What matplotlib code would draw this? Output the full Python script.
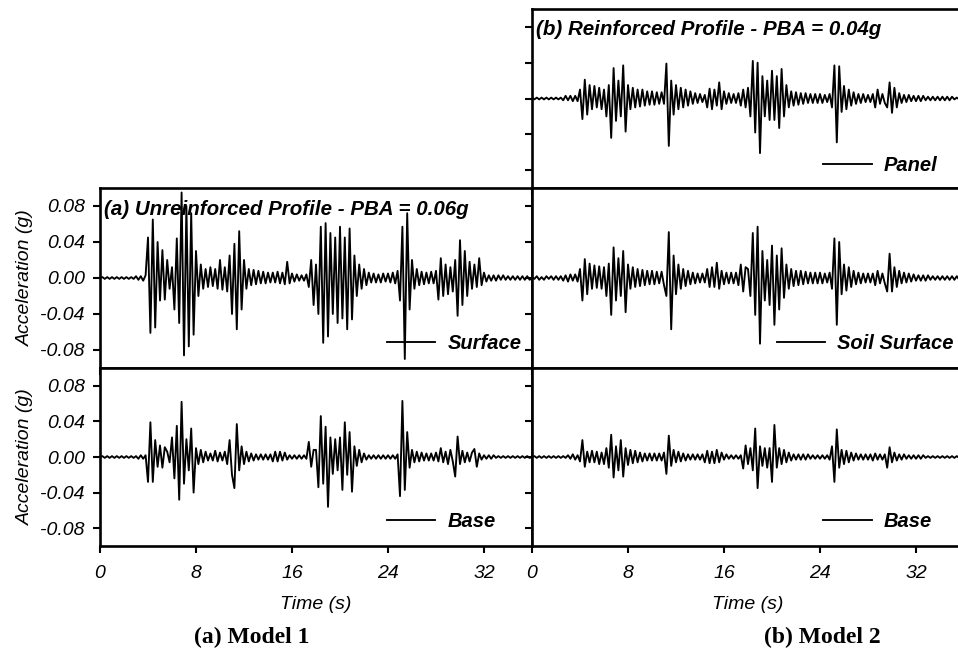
import numpy as np
import matplotlib.pyplot as plt

# acceleration records, one sample every 0.2 s (values in 0.001 g)
time = np.linspace(0, 36, 181)

m1_surface = [
    0, 1, -1, 1, -1, 1, -1, 1, -1, 1,
    -1, 1, -1, 1, -1, 2, -2, 2, -3, 3,
    45, -61, 65, -55, 40, -25, 31, -24, 20, -12,
    12, -35, 44, -50, 95, -86, 80, -76, 72, -63,
    30, -20, 15, -12, 10, -10, 12, -9, 10, -12,
    20, -13, 12, -15, 25, -40, 38, -57, 52, -35,
    20, -12, 10, -8, 9, -7, 8, -6, 7, -6,
    6, -5, 6, -5, 7, -6, 6, -7, 18, -6,
    5, -4, 4, -3, 3, -3, 4, -10, 20, -30,
    15, -40, 57, -72, 61, -65, 50, -40, 45, -50,
    57, -45, 45, -57, 55, -46, 25, -20, 15, -12,
    10, -8, 6, -5, 5, -5, 4, -5, 5, -4,
    5, -5, 6, -6, 8, -25, 57, -90, 72, -35,
    20, -12, 10, -8, 7, -7, 6, -6, 7, -6,
    8, -24, 22, -20, 15, -18, 12, -15, 20, -42,
    42, -30, 30, -20, 18, -12, 15, -10, 22, -8,
    6, -4, 3, -3, 3, -3, 3, -2, 3, -2,
    2, -2, 2, -2, 2, -2, 2, -2, 2, -2,
    0,
]

m1_base = [
    0, 1, -1, 1, -1, 1, -1, 1, -1, 1,
    -1, 1, -1, 1, -1, 1, -2, 2, -2, 2,
    -28, 39, -28, 19, -11, 13, -12, 11, 6, -6,
    22, -24, 35, -48, 62, -30, 20, -15, 32, -40,
    10, -8, 8, -6, 6, -4, 4, -4, 7, -5,
    5, -4, 6, -8, 19, -20, -35, 37, -15, 12,
    -8, 6, -5, 4, -4, 3, -3, 3, -3, 3,
    -3, 3, -5, 6, -5, 6, -4, 5, -3, 2,
    -2, 2, -2, 2, -2, 2, -2, 17, -11, 8,
    8, -34, 46, -30, 34, -56, 22, -19, 20, -15,
    22, -37, 39, -20, 28, -39, 12, -10, 8, -6,
    4, -3, 2, -2, 2, -2, 2, -2, 2, -2,
    2, -2, 2, -2, 3, -44, 63, -37, 28, -12,
    8, -6, 6, -5, 5, -4, 4, -4, 4, -4,
    5, -5, 10, -6, 6, -8, 8, -5, -22, 23,
    -8, 7, -6, 5, -5, 5, 9, -11, 4, -3,
    2, -2, 2, -2, 2, -1, 1, -1, 1, -1,
    1, -1, 1, -1, 1, -1, 1, -1, 1, -1,
    0,
]

m2_panel = [
    1, -1, 1, -1, 1, -1, 1, -1, 1, -1,
    1, -1, 1, -2, 3, -2, 3, -3, 3, -3,
    10, -23, 21, -18, 15, -12, 14, -10, 12, -12,
    10, -20, 15, -44, 34, -25, 20, -20, 37, -37,
    15, -12, 12, -10, 10, -9, 10, -8, 8, -7,
    8, -7, 7, -6, 7, -6, 39, -53, 20, -18,
    15, -12, 12, -10, 10, -8, 8, -6, 6, -5,
    5, -4, 4, -10, 11, -12, 10, -8, 18, -12,
    8, -6, 6, -5, 5, -5, 6, -8, 10, -10,
    12, -20, 42, -38, 40, -61, 25, -20, 20, -24,
    31, -24, 25, -33, 33, -20, 15, -10, 8, -8,
    7, -7, 6, -6, 6, -5, 5, -5, 5, -5,
    5, -5, 4, -4, 5, -10, 37, -49, 36, -15,
    14, -12, 10, -8, 7, -6, 5, -5, 5, -4,
    4, -4, 5, -10, 10, -6, 5, -5, -10, 18,
    -16, 12, -10, 6, -5, 4, -4, 4, -3, 3,
    -3, 3, -3, 3, -2, 2, -2, 2, -2, 2,
    -2, 2, -2, 2, -2, 2, -1, 1, -1, 1,
    0,
]

m2_soil = [
    1, -1, 2, -2, 1, -2, 2, -1, 2, -2,
    2, -2, 2, -3, 3, -4, 4, -3, 4, -4,
    10, -25, 21, -18, 16, -12, 14, -11, 13, -12,
    12, -20, 16, -41, 34, -25, 22, -20, 30, -38,
    15, -12, 12, -10, 10, -9, 9, -8, 8, -7,
    8, -7, 7, -6, 7, -8, -20, 51, -57, 25,
    -18, 15, -12, 10, -9, 8, -7, 6, -6, 5,
    -5, 5, -5, 10, -10, 12, -10, 17, -12, 8,
    -7, 6, -6, 6, -6, 6, -8, 15, -15, 12,
    10, -20, 50, -41, 57, -73, 30, -25, 20, -30,
    36, -52, 25, -35, 33, -22, 15, -12, 10, -9,
    8, -8, 8, -7, 7, -6, 6, -6, 6, -6,
    6, -6, 5, -5, 6, -12, 44, -52, 40, -18,
    15, -14, 12, -10, 8, -7, 6, -6, 5, -5,
    5, -5, 5, -8, 8, -6, 5, -6, -15, 27,
    -15, 12, -10, 8, -6, 6, -5, 5, -4, 4,
    -3, 3, -3, 3, -3, 3, -2, 2, -2, 2,
    -2, 2, -2, 2, -2, 2, -2, 2, -2, 2,
    0,
]

m2_base = [
    0, 1, -1, 1, -1, 1, -1, 1, -1, 1,
    -1, 1, -1, 1, -1, 2, -2, 3, -3, 2,
    -5, 19, -11, 6, -6, 7, -6, 6, -8, 5,
    -8, 10, -12, 25, -23, 12, -15, 19, -22, 10,
    -9, 8, -7, 7, -6, 5, -5, 4, -4, 4,
    -4, 4, -4, 4, -4, 5, -19, 24, -10, 8,
    -6, 6, -5, 4, -4, 3, -3, 3, -3, 3,
    -3, 3, -6, 7, -7, 6, -7, 8, -6, 5,
    -3, 3, -2, 2, -2, 2, -2, 2, -13, 13,
    -8, 10, -15, 32, -35, 12, -10, 10, -12, 10,
    -28, 36, -12, 10, -8, 8, -6, 5, -4, 3,
    -3, 3, -3, 3, -3, 3, -2, 2, -2, 2,
    -2, 2, -2, 2, -3, 12, -28, 31, -12, 8,
    -8, 7, -6, 5, -4, 4, -3, 3, -3, 3,
    -3, 3, -4, 4, -3, 3, -3, 3, -12, 11,
    -6, 5, -4, 3, -3, 3, -2, 2, -2, 2,
    -2, 2, -2, 2, -1, 1, -1, 1, -1, 1,
    -1, 1, -1, 1, -1, 1, -1, 1, -1, 1,
    0,
]

yticks = [-0.08, -0.04, 0.0, 0.04, 0.08]
ytick_labels = ['-0.08', '-0.04', '0.00', '0.04', '0.08']
xticks = [0, 8, 16, 24, 32]

plt.rcParams['font.family'] = 'Liberation Sans'
plt.rcParams['font.style'] = 'italic'

fig = plt.figure(figsize=(9.58, 6.5), dpi=100)


def box(x0, y0, x1, y1):
    # pixel box (top-left origin) -> figure fraction
    return [x0 / 958, 1 - y1 / 650, (x1 - x0) / 958, (y1 - y0) / 650]


def panel(rect, values, name, leg_xy, title=None, ylab=False, xlab=False):
    ax = fig.add_axes(rect)
    ax.plot(time, np.array(values) / 1000, color='black', lw=1.35, label=name)
    ax.set_xlim(0, 36)
    ax.set_ylim(-0.1, 0.1)
    ax.set_yticks(yticks)
    ax.set_xticks(xticks)
    for s in ax.spines.values():
        s.set_linewidth(1.9)
    ax.tick_params(direction='out', length=5, width=1.5, labelsize=14, pad=6)
    if ylab:
        ax.set_yticklabels(ytick_labels)
        ax.set_ylabel('Acceleration (g)', fontsize=14)
        ax.yaxis.set_label_coords(-0.154, 0.5)
    else:
        ax.set_yticklabels([])
    if xlab:
        ax.set_xlabel('Time (s)', fontsize=14, labelpad=10)
        ax.tick_params(axis='x', pad=9)
    else:
        ax.set_xticklabels([])
    if title:
        ax.text(0.01, 0.883, title, transform=ax.transAxes, fontsize=14.8,
                fontweight='bold', va='center', ha='left')
    ax.legend(loc='center left', bbox_to_anchor=leg_xy, frameon=False,
              handlelength=2.4, handletextpad=0.6, borderpad=0, borderaxespad=0,
              prop={'size': 14.5, 'weight': 'bold', 'style': 'italic'})
    return ax


panel(box(100, 188, 532, 368), m1_surface, 'Surface', (0.664, 0.134),
      '(a) Unreinforced Profile - PBA = 0.06g', ylab=True)
panel(box(100, 368, 532, 546), m1_base, 'Base', (0.664, 0.135), ylab=True, xlab=True)
panel(box(532, 9, 964, 188), m2_panel, 'Panel', (0.674, 0.128),
      '(b) Reinforced Profile - PBA = 0.04g')
panel(box(532, 188, 964, 368), m2_soil, 'Soil Surface', (0.567, 0.134))
panel(box(532, 368, 964, 546), m2_base, 'Base', (0.674, 0.135), xlab=True)

fig.text(252 / 958, 1 - 637 / 650, '(a) Model 1', ha='center', va='center',
         family='Liberation Serif', style='normal', weight='bold', fontsize=17)
fig.text(822 / 958, 1 - 637 / 650, '(b) Model 2', ha='center', va='center',
         family='Liberation Serif', style='normal', weight='bold', fontsize=17)

fig.savefig('out.png', dpi=100)
